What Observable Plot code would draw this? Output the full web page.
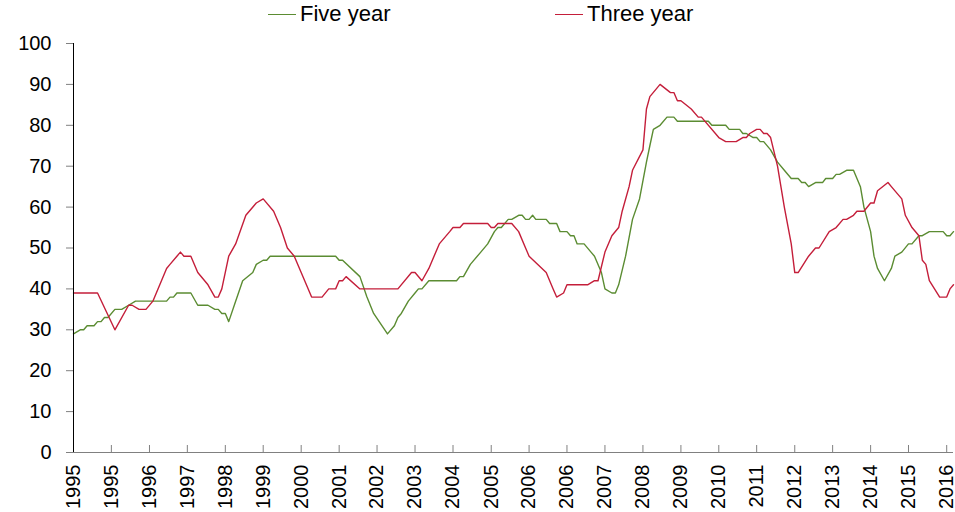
<!DOCTYPE html>
<html><head><meta charset="utf-8">
<script src="https://cdn.jsdelivr.net/npm/d3@7"></script>
<script src="https://cdn.jsdelivr.net/npm/@observablehq/plot@0.6"></script>
<style>
html,body{margin:0;padding:0;background:#fff;}
body{font-family:"Liberation Sans",Arial,sans-serif;width:955px;height:512px;overflow:hidden;}
#legend{position:relative;height:30px;width:955px;}
#legend .sw{position:absolute;height:0;border-top:1.5px solid;}
#legend .lb{position:absolute;font-size:22px;line-height:24px;color:#000;white-space:nowrap;}
</style></head><body>
<div id="legend"></div>
<div id="chart"></div>
<script>
const seriesNames = ["Five year", "Three year"];
const seriesColors = ["#5b8c32", "#c41e3a"];

const fiveYearDates = ["1995-01","1995-03","1995-04","1995-05","1995-07","1995-08","1995-09","1995-10","1995-11","1996-01","1996-03","1996-05","1996-07","1997-04","1997-05","1997-06","1997-07","1997-11","1998-01","1998-04","1998-06","1998-07","1998-08","1998-09","1998-10","1998-12","1999-02","1999-05","1999-06","1999-08","1999-09","1999-10","2001-05","2001-06","2001-07","2001-12","2002-02","2002-04","2002-08","2002-10","2002-11","2002-12","2003-02","2003-04","2003-05","2003-06","2003-08","2004-04","2004-05","2004-06","2004-08","2004-11","2005-01","2005-03","2005-04","2005-05","2005-07","2005-08","2005-10","2005-11","2005-12","2006-01","2006-02","2006-03","2006-06","2006-07","2006-09","2006-10","2006-12","2007-01","2007-02","2007-03","2007-05","2007-07","2007-08","2007-10","2007-11","2008-01","2008-02","2008-03","2008-05","2008-07","2008-09","2008-11","2008-12","2009-01","2009-03","2009-05","2009-07","2009-08","2010-05","2010-06","2010-10","2010-11","2011-02","2011-03","2011-04","2011-06","2011-07","2011-08","2011-09","2011-11","2012-01","2012-03","2012-05","2012-07","2012-08","2012-09","2012-10","2012-12","2013-02","2013-03","2013-05","2013-06","2013-07","2013-09","2013-11","2014-01","2014-02","2014-04","2014-05","2014-06","2014-08","2014-10","2014-11","2015-01","2015-03","2015-04","2015-06","2015-07","2015-09","2016-01","2016-02","2016-03","2016-04"];
const fiveYearValues = [29,30,30,31,31,32,32,33,33,35,35,36,37,37,38,38,39,39,36,36,35,35,34,34,32,37,42,44,46,47,47,48,48,47,47,43,38,34,29,31,33,34,37,39,40,40,42,42,43,43,46,49,51,54,55,55,57,57,58,58,57,57,58,57,57,56,56,54,54,53,53,51,51,49,48,44,40,39,39,41,48,57,62,71,75,79,80,82,82,81,81,80,80,79,79,78,78,77,77,76,76,74,71,69,67,67,66,66,65,66,66,67,67,68,68,69,69,65,60,54,48,45,42,45,48,49,51,51,53,53,54,54,53,53,54];

const threeYearDates = ["1995-01","1995-08","1996-01","1996-05","1996-06","1996-08","1996-10","1996-12","1997-04","1997-05","1997-07","1997-08","1997-09","1997-11","1998-01","1998-04","1998-06","1998-07","1998-08","1998-10","1998-12","1999-03","1999-06","1999-08","1999-11","2000-01","2000-03","2000-05","2000-07","2000-10","2001-01","2001-03","2001-05","2001-06","2001-07","2001-08","2001-12","2002-11","2003-03","2003-04","2003-06","2003-08","2003-11","2004-02","2004-03","2004-05","2004-06","2005-01","2005-02","2005-03","2005-04","2005-08","2005-10","2005-12","2006-01","2006-06","2006-08","2006-09","2006-11","2006-12","2007-06","2007-08","2007-09","2007-11","2008-01","2008-03","2008-04","2008-06","2008-07","2008-10","2008-11","2008-12","2009-03","2009-06","2009-07","2009-08","2009-09","2009-12","2010-02","2010-03","2010-08","2010-10","2011-01","2011-03","2011-04","2011-05","2011-07","2011-08","2011-09","2011-10","2011-11","2012-01","2012-03","2012-05","2012-06","2012-07","2012-10","2012-12","2013-01","2013-04","2013-06","2013-08","2013-09","2013-11","2013-12","2014-02","2014-04","2014-05","2014-06","2014-09","2014-10","2015-01","2015-02","2015-04","2015-06","2015-07","2015-08","2015-09","2015-12","2016-02","2016-03","2016-04"];
const threeYearValues = [39,39,30,36,36,35,35,37,45,46,48,49,48,48,44,41,38,38,40,48,51,58,61,62,59,55,50,48,44,38,38,40,40,42,42,43,40,40,44,44,42,45,51,54,55,55,56,56,55,55,56,56,54,50,48,44,40,38,39,41,41,42,42,49,53,55,59,65,69,74,84,87,90,88,88,86,86,84,82,82,77,76,76,77,77,78,79,79,78,78,77,70,60,51,44,44,48,50,50,54,55,57,57,58,59,59,61,61,64,66,65,62,58,55,53,47,46,42,38,38,40,41];

const xTickDates = ["1995-01","1995-12","1996-11","1997-10","1998-09","1999-08","2000-07","2001-06","2002-05","2003-04","2004-03","2005-02","2006-01","2006-12","2007-11","2008-10","2009-09","2010-08","2011-07","2012-06","2013-05","2014-04","2015-03","2016-02"];
const yTicks = [0,10,20,30,40,50,60,70,80,90,100];
const xDomain = ["1995-01", "2016-04"];

const parse = d3.utcParse("%Y-%m");
const rows = [];
fiveYearDates.forEach((d, i) => rows.push({series: seriesNames[0], date: parse(d), value: fiveYearValues[i]}));
threeYearDates.forEach((d, i) => rows.push({series: seriesNames[1], date: parse(d), value: threeYearValues[i]}));
const ticks = xTickDates.map(parse);

// legend
const legend = document.getElementById("legend");
const legendPos = [{sw: 268, tx: 300}, {sw: 555, tx: 587}];
seriesNames.forEach((name, i) => {
  const sw = document.createElement("div");
  sw.className = "sw";
  sw.style.left = legendPos[i].sw + "px";
  sw.style.top = "14px";
  sw.style.width = "28px";
  sw.style.borderTopColor = seriesColors[i];
  legend.appendChild(sw);
  const lb = document.createElement("div");
  lb.className = "lb";
  lb.style.left = legendPos[i].tx + "px";
  lb.style.top = "2px";
  lb.textContent = name;
  legend.appendChild(lb);
});

const chart = Plot.plot({
  width: 955,
  height: 482,
  marginTop: 13,
  marginBottom: 60,
  marginLeft: 73,
  marginRight: 2,
  style: {fontFamily: '"Liberation Sans", Arial, sans-serif', fontSize: "20px", color: "#000", background: "#fff", overflow: "visible"},
  x: {type: "utc", domain: xDomain.map(parse)},
  y: {domain: [0, 100]},
  color: {domain: seriesNames, range: seriesColors},
  marks: [
    Plot.ruleY([0], {stroke: "#808080", strokeWidth: 1}),
    Plot.tickX(ticks, {x: d => d, insetTop: 402, stroke: "#808080", strokeWidth: 1}),
    Plot.axisX({ticks: ticks, tickSize: 0, tickPadding: 12, tickRotate: -90, tickFormat: d3.utcFormat("%Y"), fontSize: 20, fill: "#000", label: null}),
    Plot.axisY({ticks: yTicks, tickSize: 7, tickPadding: 15, fontSize: 20, stroke: "#808080", fill: "#000", label: null}),
    Plot.line(rows, {x: "date", y: "value", z: "series", stroke: "series", strokeWidth: 1.4, curve: "linear"}),
    Plot.ruleX([parse(xDomain[0])], {stroke: "#000", strokeWidth: 1})
  ]
});
document.getElementById("chart").appendChild(chart);
</script>
</body></html>
